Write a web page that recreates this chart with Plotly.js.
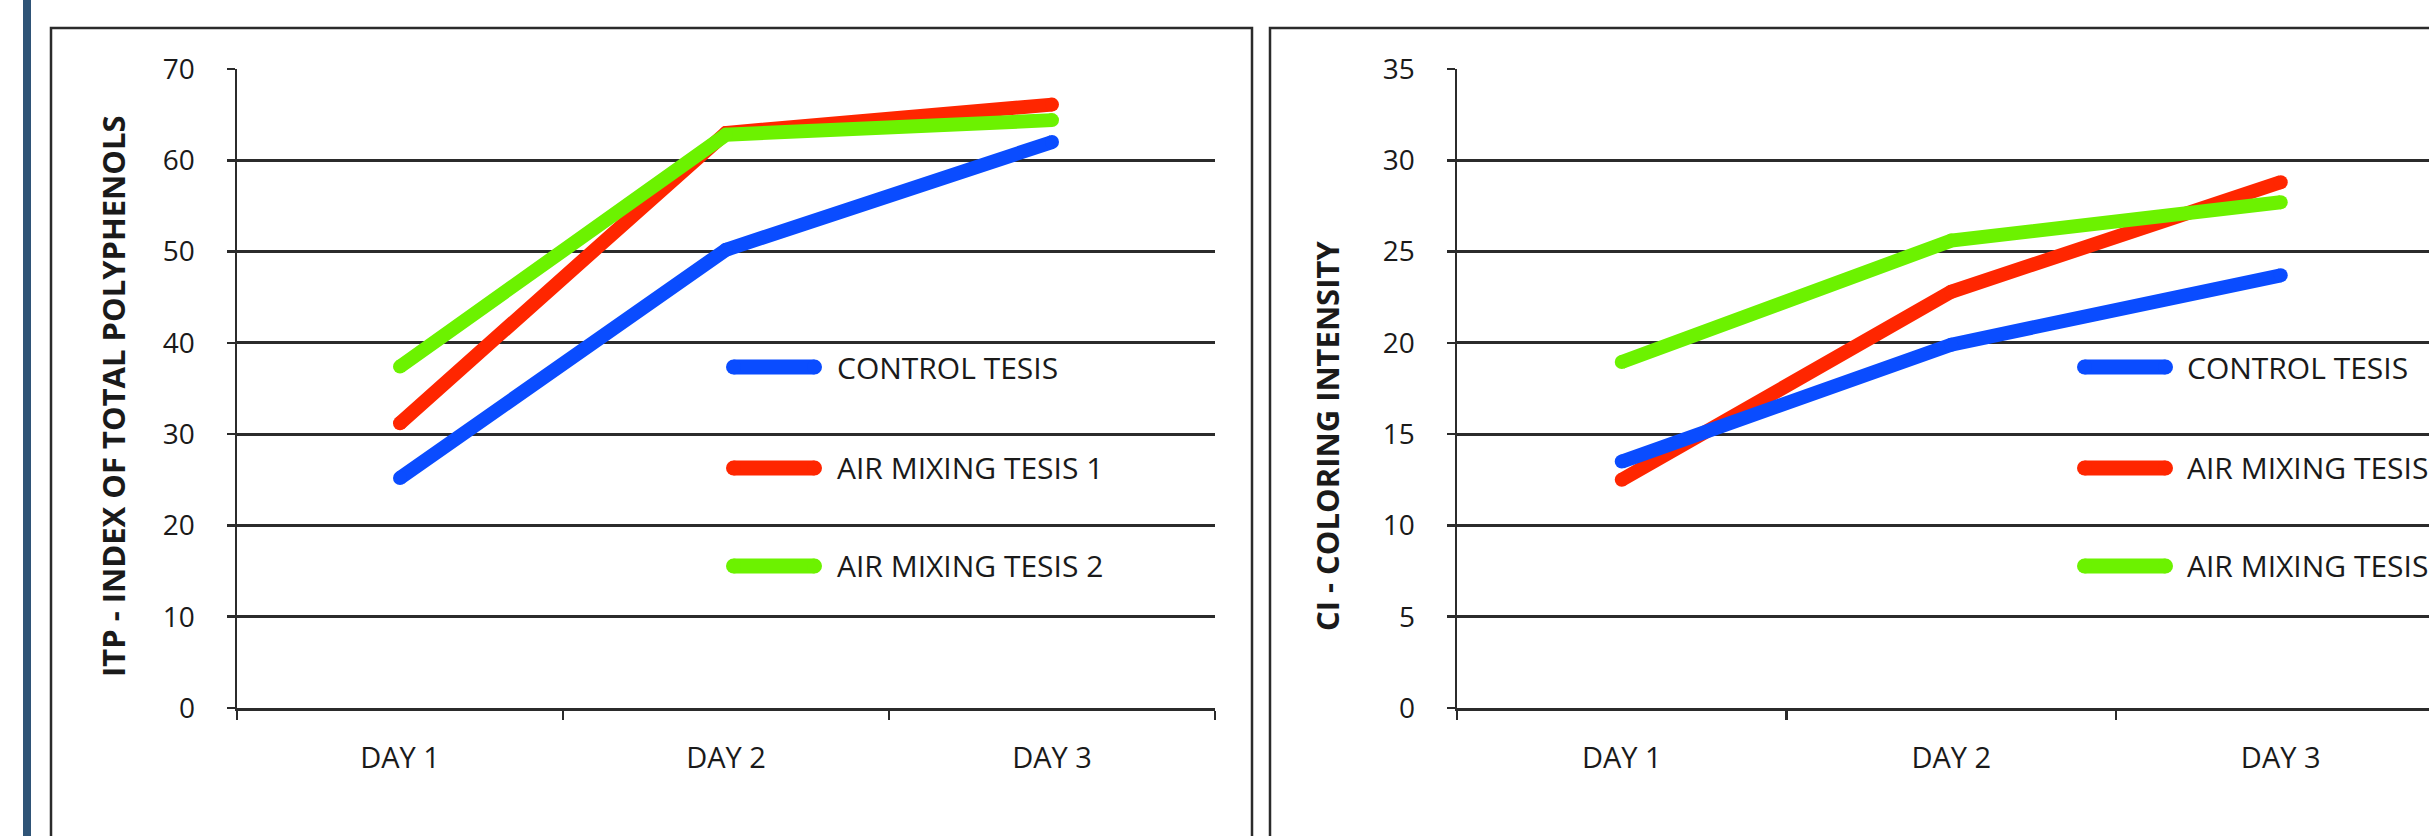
<!DOCTYPE html>
<html>
<head>
<meta charset="utf-8">
<script src="https://cdn.plot.ly/plotly-3.0.1.min.js"></script>
<style>
  html, body { margin: 0; padding: 0; background: #ffffff; }
  #chart { width: 2429px; height: 836px; }
</style>
</head>
<body>
<div id="chart"></div>
<script>
// ---- data ----
const days = ['DAY 1', 'DAY 2', 'DAY 3'];
const seriesNames = ['CONTROL TESIS', 'AIR MIXING TESIS 1', 'AIR MIXING TESIS 2'];
const itpControl = [25.2, 50.2, 62.0];
const itpAir1 = [31.2, 63.0, 66.1];
const itpAir2 = [37.4, 62.8, 64.4];
const ciControl = [13.5, 19.9, 23.7];
const ciAir1 = [12.5, 22.8, 28.8];
const ciAir2 = [18.95, 25.6, 27.7];
const itpTicks = [0, 10, 20, 30, 40, 50, 60, 70];
const ciTicks = [0, 5, 10, 15, 20, 25, 30, 35];
const itpTitle = 'ITP - INDEX OF TOTAL POLYPHENOLS';
const ciTitle = 'CI - COLORING INTENSITY';

// ---- styling ----
const W = 2429, H = 836;
const px = x => x / W;
const py = y => (H - y) / H;
const colors = ['#0a4cff', '#ff2600', '#6cf200'];
const FONT = '"Open Sans", "Liberation Sans", sans-serif';
const TXT = '#1a1a1a';
const GRID = '#2b2b2b';
const LW = 14;

function mkTrace(name, ys, color, xa, ya) {
  return {
    type: 'scatter', mode: 'lines+markers', x: days, y: ys, name: name,
    xaxis: xa, yaxis: ya, showlegend: false, hoverinfo: 'skip',
    line: { color: color, width: LW },
    marker: { color: color, size: LW, line: { width: 0 } }
  };
}

// draw order: red, blue, green (green on top)
const order = [1, 0, 2];
const itpSeries = [itpControl, itpAir1, itpAir2];
const ciSeries = [ciControl, ciAir1, ciAir2];
const traces = [];
order.forEach(i => traces.push(mkTrace(seriesNames[i], itpSeries[i], colors[i], 'x', 'y')));
order.forEach(i => traces.push(mkTrace(seriesNames[i], ciSeries[i], colors[i], 'x2', 'y2')));

const yDom = [py(708), py(69)];

function xAxis(domain, range, anchor) {
  return {
    domain: domain, anchor: anchor, type: 'category', categoryorder: 'array', categoryarray: days,
    range: range, fixedrange: true,
    showgrid: false, zeroline: false,
    showline: true, linecolor: GRID, linewidth: 3,
    ticks: 'outside', tickson: 'boundaries', ticklen: 9, tickwidth: 2.5, tickcolor: GRID,
    ticklabelstandoff: 22,
    tickfont: { family: FONT, size: 29, color: TXT }
  };
}
function yAxis(range, tickvals, anchor) {
  return {
    domain: yDom, range: range, anchor: anchor, fixedrange: true,
    tickmode: 'array', tickvals: tickvals, ticktext: tickvals.map(String),
    showgrid: true, gridcolor: GRID, gridwidth: 3,
    zeroline: false,
    showline: true, linecolor: GRID, linewidth: 2.5,
    ticks: 'outside', ticklen: 8, tickwidth: 2.5, tickcolor: GRID,
    ticklabelstandoff: 26,
    tickfont: { family: FONT, size: 28, color: TXT }
  };
}

const shapes = [
  // dark side bar
  { type: 'rect', xref: 'paper', yref: 'paper', x0: px(23), x1: px(31), y0: -0.05, y1: 1.05,
    fillcolor: '#2f5477', line: { width: 0 }, layer: 'below' },
  // panel frames
  { type: 'rect', xref: 'paper', yref: 'paper', x0: px(51), x1: px(1252), y0: -0.05, y1: py(28),
    fillcolor: 'rgba(0,0,0,0)', line: { color: '#2b2b2b', width: 2.5 }, layer: 'below' },
  { type: 'rect', xref: 'paper', yref: 'paper', x0: px(1270), x1: px(2460), y0: -0.05, y1: py(28),
    fillcolor: 'rgba(0,0,0,0)', line: { color: '#2b2b2b', width: 2.5 }, layer: 'below' }
];
const annotations = [
  { xref: 'paper', yref: 'paper', x: px(113), y: py(396), text: itpTitle, textangle: -90,
    showarrow: false, xanchor: 'center', yanchor: 'middle',
    font: { family: FONT, size: 31, color: TXT, weight: 700 } },
  { xref: 'paper', yref: 'paper', x: px(1327), y: py(436), text: ciTitle, textangle: -90,
    showarrow: false, xanchor: 'center', yanchor: 'middle',
    font: { family: FONT, size: 31, color: TXT, weight: 700 } }
];

// custom legends (long rounded line samples)
const legendRows = [367, 468, 566];
function addLegend(x0, x1, labelX) {
  const r = 7.5;
  seriesNames.forEach((name, i) => {
    const y = legendRows[i];
    shapes.push({ type: 'line', xref: 'paper', yref: 'paper', x0: px(x0 + r), x1: px(x1 - r),
      y0: py(y), y1: py(y), line: { color: colors[i], width: 2 * r } });
    [x0 + r, x1 - r].forEach(cx => shapes.push({ type: 'circle', xref: 'paper', yref: 'paper',
      x0: px(cx - r), x1: px(cx + r), y0: py(y + r), y1: py(y - r),
      fillcolor: colors[i], line: { width: 0 } }));
    annotations.push({ xref: 'paper', yref: 'paper', x: px(labelX), y: py(y), text: name,
      showarrow: false, xanchor: 'left', yanchor: 'middle',
      font: { family: FONT, size: 30, color: TXT } });
  });
}
addLegend(726, 822, 835);
addLegend(2077, 2173, 2185);

const layout = {
  width: W, height: H,
  margin: { l: 0, r: 0, t: 0, b: 0 },
  paper_bgcolor: '#ffffff', plot_bgcolor: 'rgba(0,0,0,0)',
  showlegend: false,
  xaxis: xAxis([px(237), px(1215)], [-0.5, 2.5], 'y'),
  yaxis: yAxis([0, 70], itpTicks, 'x'),
  xaxis2: xAxis([px(1457), 1], [-0.5, 2.45], 'y2'),
  yaxis2: yAxis([0, 35], ciTicks, 'x2'),
  shapes: shapes,
  annotations: annotations
};

Plotly.newPlot('chart', traces, layout, { displayModeBar: false, staticPlot: true });
</script>
</body>
</html>
